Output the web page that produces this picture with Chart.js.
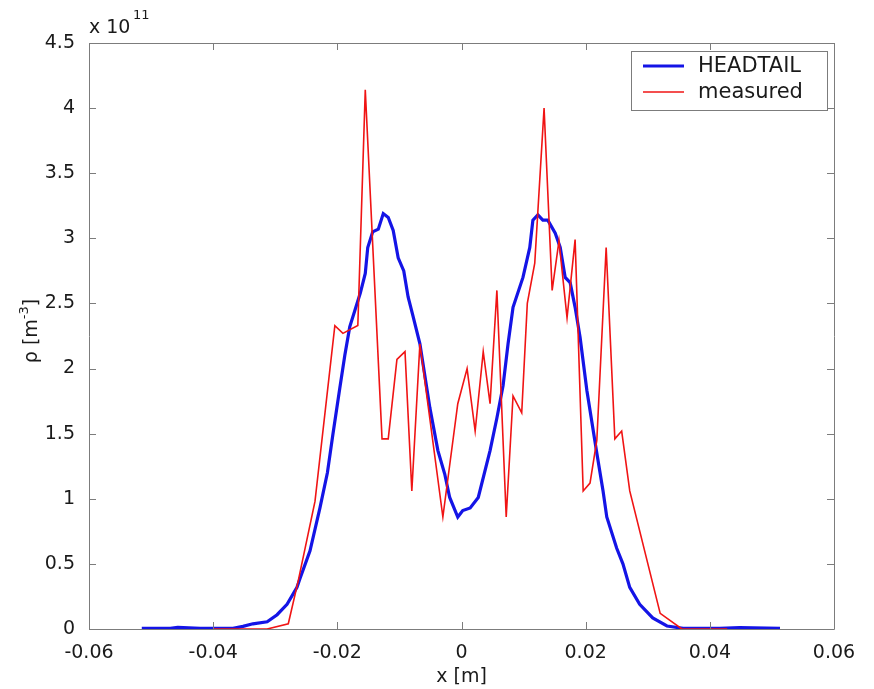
<!DOCTYPE html>
<html>
<head>
<meta charset="utf-8">
<script src="https://cdn.jsdelivr.net/npm/chart.js@4.4.1/dist/chart.umd.min.js"></script>
<style>
  html, body { margin: 0; background: #fff; }
  #wrap { width: 874px; height: 689px; }
</style>
</head>
<body>
<div id="wrap"><canvas id="rhoChart"></canvas></div>
<script>
// values in units of 1e11 m^-3, x in metres
const headtailX = [-0.0515, -0.0469, -0.0457, -0.0421, -0.0368, -0.0352, -0.0336, -0.0313, -0.0297, -0.0281,
  -0.0265, -0.0260, -0.0244, -0.0228, -0.0216, -0.0207, -0.0196, -0.0188, -0.0180, -0.0163, -0.0155, -0.0151, -0.0143,
  -0.0134, -0.0126, -0.0118, -0.0110, -0.0102, -0.0093, -0.0086, -0.0078, -0.0067, -0.0051, -0.0038, -0.0027,
  -0.0019, -0.0006, 0.0002, 0.0014, 0.0027, 0.0046, 0.0057, 0.0067, 0.0075, 0.0083, 0.0099, 0.0110, 0.0115,
  0.0123, 0.0131, 0.0139, 0.0151, 0.0159, 0.0167, 0.0175, 0.0183, 0.0191, 0.0202, 0.0218, 0.0228, 0.0234,
  0.0250, 0.0260, 0.0271, 0.0287, 0.0308, 0.0331, 0.0357, 0.0416, 0.0448, 0.0513];
const headtailY = [0.005, 0.005, 0.012, 0.005, 0.005, 0.02, 0.04, 0.055, 0.11, 0.19,
  0.32, 0.39, 0.6, 0.93, 1.2, 1.5, 1.85, 2.1, 2.32, 2.58, 2.73, 2.93, 3.05,
  3.07, 3.19, 3.16, 3.06, 2.85, 2.75, 2.55, 2.40, 2.19, 1.70, 1.37, 1.19,
  1.01, 0.86, 0.91, 0.93, 1.01, 1.37, 1.62, 1.87, 2.19, 2.47, 2.70, 2.93, 3.14,
  3.18, 3.14, 3.14, 3.04, 2.93, 2.70, 2.66, 2.47, 2.24, 1.83, 1.35, 1.06, 0.86,
  0.62, 0.50, 0.32, 0.19, 0.085, 0.023, 0.005, 0.005, 0.01, 0.005];

const measuredX = [-0.0400, -0.0313, -0.0279, -0.0263, -0.0236, -0.0204, -0.0191, -0.0167, -0.0155, -0.0128,
  -0.0118, -0.0104, -0.0091, -0.0080, -0.0067, -0.0030, -0.0006, 0.0009, 0.0022, 0.0035, 0.0046, 0.0057,
  0.0072, 0.0083, 0.0097, 0.0106, 0.0118, 0.0133, 0.0146, 0.0157, 0.0170, 0.0183, 0.0196, 0.0207, 0.0218,
  0.0233, 0.0247, 0.0258, 0.0271, 0.0320, 0.0355, 0.0428];
const measuredY = [0, 0, 0.04, 0.37, 0.98, 2.33, 2.27, 2.33, 4.14, 1.46,
  1.46, 2.07, 2.13, 1.06, 2.19, 0.86, 1.73, 2.00, 1.52, 2.13, 1.73, 2.60,
  0.86, 1.79, 1.66, 2.50, 2.81, 4.00, 2.60, 2.98, 2.39, 2.99, 1.06, 1.12, 1.45,
  2.93, 1.46, 1.52, 1.06, 0.12, 0, 0];

const xTicks = [-0.06, -0.04, -0.02, 0, 0.02, 0.04, 0.06];
const xTickLabels = ['-0.06', '-0.04', '-0.02', '0', '0.02', '0.04', '0.06'];
const yTicks = [0, 0.5, 1, 1.5, 2, 2.5, 3, 3.5, 4, 4.5];
const yTickLabels = ['0', '0.5', '1', '1.5', '2', '2.5', '3', '3.5', '4', '4.5'];

const toPoints = (xs, ys) => xs.map((v, i) => ({ x: v, y: ys[i] }));

const axisGray = '#7c7c7c';
const textColor = '#1a1a1a';
const FONT = 'DejaVu Sans';

Chart.defaults.font.family = FONT;

// MATLAB-like box with inward ticks, labels and a legend inside the axes
const matlabFrame = {
  id: 'matlabFrame',
  afterDraw(chart) {
    const { ctx, chartArea: a, scales: { x, y } } = chart;
    ctx.save();
    ctx.strokeStyle = axisGray;
    ctx.lineWidth = 1;
    ctx.beginPath();
    ctx.rect(Math.round(a.left) + 0.5, Math.round(a.top) + 0.5,
      Math.round(a.right - a.left), Math.round(a.bottom - a.top));
    xTicks.forEach(v => {
      const px = Math.round(x.getPixelForValue(v)) + 0.5;
      ctx.moveTo(px, a.bottom); ctx.lineTo(px, a.bottom - 7);
      ctx.moveTo(px, a.top); ctx.lineTo(px, a.top + 7);
    });
    yTicks.forEach(v => {
      const py = Math.round(y.getPixelForValue(v)) + 0.5;
      ctx.moveTo(a.left, py); ctx.lineTo(a.left + 7, py);
      ctx.moveTo(a.right, py); ctx.lineTo(a.right - 7, py);
    });
    ctx.stroke();

    ctx.fillStyle = textColor;
    ctx.textBaseline = 'middle';

    // x label
    ctx.textAlign = 'center';
    ctx.font = '19px "' + FONT + '"';
    ctx.fillText('x [m]', (a.left + a.right) / 2, 677);

    // exponent
    ctx.textAlign = 'left';
    ctx.fillText('x 10', a.left, 28);
    ctx.font = '13px "' + FONT + '"';
    ctx.fillText('11', a.left + 44, 16);

    // y label, rotated, with superscript
    ctx.save();
    ctx.translate(32, 331);
    ctx.rotate(-Math.PI / 2);
    const big = '19px "' + FONT + '"', small = '13px "' + FONT + '"';
    ctx.font = big; const w1 = ctx.measureText('\u03c1 [m').width;
    ctx.font = small; const w2 = ctx.measureText('-3').width;
    ctx.font = big; const w3 = ctx.measureText(']').width;
    let cx = -(w1 + w2 + w3) / 2;
    ctx.font = big; ctx.fillText('\u03c1 [m', cx, 0); cx += w1;
    ctx.font = small; ctx.fillText('-3', cx, -7); cx += w2;
    ctx.font = big; ctx.fillText(']', cx, 0);
    ctx.restore();

    // legend
    const lx = 631, ly = 51, lw = 196, lh = 59;
    ctx.fillStyle = '#fff';
    ctx.fillRect(lx, ly, lw, lh);
    ctx.strokeStyle = axisGray;
    ctx.strokeRect(lx + 0.5, ly + 0.5, lw, lh);
    const ds = chart.data.datasets;
    const rows = [66, 92];
    ds.forEach((d, i) => {
      ctx.strokeStyle = d.borderColor;
      ctx.lineWidth = d.borderWidth;
      ctx.beginPath();
      ctx.moveTo(643, rows[i]); ctx.lineTo(684, rows[i]);
      ctx.stroke();
      ctx.fillStyle = textColor;
      ctx.font = '21px "' + FONT + '"';
      ctx.fillText(d.label, 698, rows[i] + 1);
    });
    ctx.restore();
  }
};

new Chart(document.getElementById('rhoChart'), {
  type: 'scatter',
  data: {
    datasets: [
      {
        label: 'HEADTAIL',
        data: toPoints(headtailX, headtailY),
        showLine: true,
        borderColor: '#1414e6',
        borderWidth: 3.2,
        pointRadius: 0,
        tension: 0,
        order: 1
      },
      {
        label: 'measured',
        data: toPoints(measuredX, measuredY),
        showLine: true,
        borderColor: '#f01414',
        borderWidth: 1.6,
        pointRadius: 0,
        tension: 0,
        order: 0
      }
    ]
  },
  options: {
    responsive: true,
    maintainAspectRatio: false,
    animation: false,
    layout: { padding: { top: 43, right: 40, left: 0, bottom: 0 } },
    plugins: {
      legend: { display: false },
      tooltip: { enabled: false }
    },
    scales: {
      x: {
        type: 'linear',
        min: -0.06,
        max: 0.06,
        grid: { display: false },
        border: { display: false },
        afterBuildTicks: s => { s.ticks = xTicks.map(v => ({ value: v })); },
        afterFit: s => { s.height = 60; },
        ticks: {
          color: textColor,
          font: { size: 19 },
          padding: 5,
          maxRotation: 0,
          callback: (v, i) => xTickLabels[i]
        }
      },
      y: {
        type: 'linear',
        min: 0,
        max: 4.5,
        grid: { display: false },
        border: { display: false },
        afterBuildTicks: s => { s.ticks = yTicks.map(v => ({ value: v })); },
        afterFit: s => { s.width = 89; },
        ticks: {
          color: textColor,
          font: { size: 19 },
          padding: 6,
          callback: (v, i) => yTickLabels[i]
        }
      }
    }
  },
  plugins: [matlabFrame]
});
</script>
</body>
</html>
